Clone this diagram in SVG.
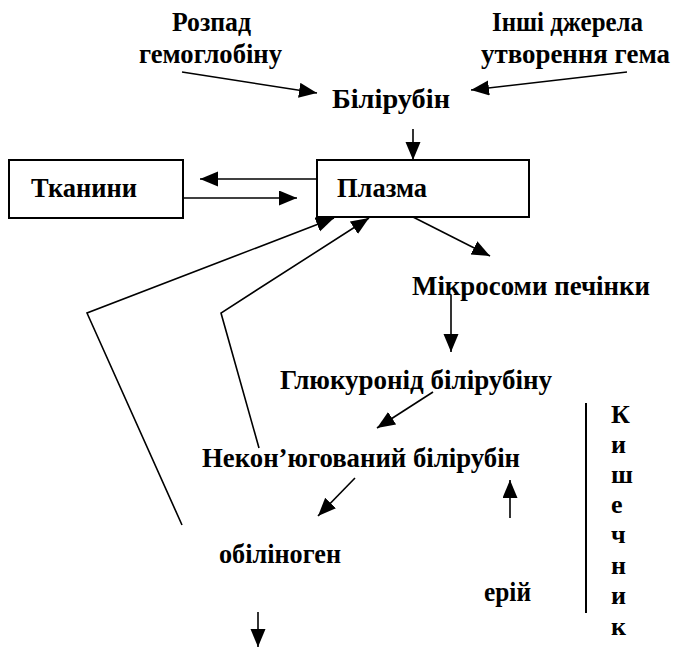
<svg xmlns="http://www.w3.org/2000/svg" width="681" height="648" viewBox="0 0 681 648">
<defs>
<style>
text{font-family:"Liberation Serif","Times New Roman",serif;font-weight:bold;font-size:28px;fill:#000}
.k{font-size:26px}
.box{fill:#fff;stroke:#000;stroke-width:2}
.ln{fill:none;stroke:#000;stroke-width:1.6}
.arr{fill:none;stroke:#000;stroke-width:1.6;marker-end:url(#ah)}
</style>
<marker id="ah" markerUnits="userSpaceOnUse" markerWidth="20" markerHeight="16" refX="18" refY="7.5" orient="auto" viewBox="0 0 20 16">
<path d="M0,0 L18,7.5 L0,15 z" fill="#000"/>
</marker>
</defs>
<rect width="681" height="648" fill="#fff"/>
<g id="connectors">
<line class="arr" x1="182" y1="72" x2="317" y2="93"/>
<line class="arr" x1="627" y1="72" x2="471" y2="90"/>
<line class="arr" x1="413" y1="129" x2="413" y2="160"/>
<line class="arr" x1="317" y1="179" x2="200" y2="179"/>
<line class="arr" x1="183" y1="198" x2="297" y2="198"/>
<line class="arr" x1="413" y1="217" x2="490" y2="256"/>
<line class="arr" x1="451" y1="295" x2="451" y2="352"/>
<line class="arr" x1="433" y1="392" x2="377" y2="428"/>
<line class="arr" x1="355" y1="478" x2="318" y2="516"/>
<line class="arr" x1="510" y1="518" x2="510" y2="480"/>
<line class="arr" x1="258" y1="612" x2="258" y2="647"/>
<polyline class="arr" points="182,525 87,313 334,218"/>
<polyline class="arr" points="259,448 221,313 369,218"/>
<line class="ln" x1="586" y1="403" x2="586" y2="613" style="stroke-width:2"/>
</g>
<g id="rozpad">
<text x="172" y="31" textLength="79" lengthAdjust="spacingAndGlyphs">Розпад</text>
<text x="139" y="63" textLength="143" lengthAdjust="spacingAndGlyphs">гемоглобіну</text>
</g>
<g id="inshi">
<text x="492" y="31" textLength="151" lengthAdjust="spacingAndGlyphs">Інші джерела</text>
<text x="481" y="63" textLength="189" lengthAdjust="spacingAndGlyphs">утворення гема</text>
</g>
<g id="bilirubin">
<text x="332" y="108" textLength="118" lengthAdjust="spacingAndGlyphs">Білірубін</text>
</g>
<g id="tkanyny">
<rect class="box" x="9" y="160" width="174" height="58"/>
<text x="31" y="197" textLength="106" lengthAdjust="spacingAndGlyphs">Тканини</text>
</g>
<g id="plazma">
<rect class="box" x="317" y="160" width="212" height="57"/>
<text x="337" y="197" textLength="90" lengthAdjust="spacingAndGlyphs">Плазма</text>
</g>
<g id="mikrosomy">
<text x="412" y="295" textLength="238" lengthAdjust="spacingAndGlyphs">Мікросоми печінки</text>
</g>
<g id="glukuronid">
<text x="280" y="389" textLength="272" lengthAdjust="spacingAndGlyphs">Глюкуронід білірубіну</text>
</g>
<g id="nekon">
<text x="202" y="467" textLength="318" lengthAdjust="spacingAndGlyphs">Некон’югований білірубін</text>
</g>
<g id="obilinogen">
<text x="219" y="563" textLength="122" lengthAdjust="spacingAndGlyphs">обіліноген</text>
</g>
<g id="eriy">
<text x="484" y="601" textLength="47" lengthAdjust="spacingAndGlyphs">ерій</text>
</g>
<g id="kyshechnyk">
<text class="k" x="611" y="423">К</text>
<text class="k" x="611" y="453">и</text>
<text class="k" x="611" y="483">ш</text>
<text class="k" x="611" y="513">е</text>
<text class="k" x="611" y="543">ч</text>
<text class="k" x="611" y="574">н</text>
<text class="k" x="611" y="604">и</text>
<text class="k" x="611" y="635">к</text>
</g>
</svg>
